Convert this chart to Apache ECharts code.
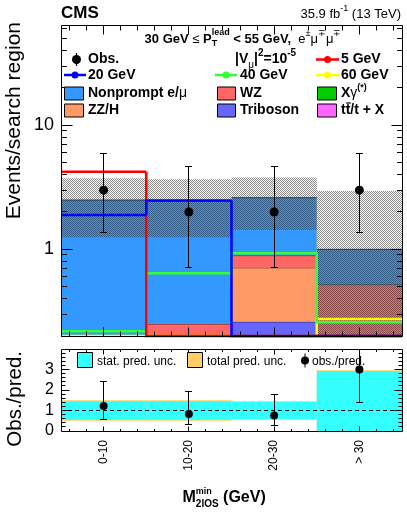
<!DOCTYPE html>
<html><head><meta charset="utf-8">
<script src="https://cdn.jsdelivr.net/npm/echarts@6/dist/echarts.min.js"></script>
<style>html,body{margin:0;padding:0;background:#fff}#c{width:407px;height:522px}</style>
</head><body><div id="c"></div>
<script>
// ---------------- data ----------------
const binLabels = ['0-10', '10-20', '20-30', '> 30'];
const obs      = [3, 2, 2, 3];
const obsLo    = [1.37, 0.71, 0.71, 1.37];   // lower end of error bar
const obsHi    = [5.92, 4.64, 4.64, 5.92];   // upper end of error bar
// background components (stack order bottom -> top); 0 = below visible range
const triboson  = [0, 0, 0.26, 0];
const ttx       = [0, 0, 0, 0];
const xgamma    = [0, 0, 0, 0];
const zzh       = [0, 0, 0.45, 0];
const wz        = [0, 0.25, 0.18, 0.52];
const nonprompt = [2.50, 2.21, 1.72, 0.48];
const predUnc   = [1.25, 1.21, 1.18, 1.95];  // absolute total uncertainty
// signal hypotheses (0 = below visible range)
const sig5  = [4.23, 0, 0, 0];
const sig20 = [1.89, 2.47, 0, 0];
const sig40 = [0.218, 0.64, 0.93, 0.258];
const sig60 = [0, 0, 0, 0.274];
// ratio panel
const ratio     = [1.22, 0.83, 0.76, 3.0];
const ratioLo   = [0.57, 0.30, 0.27, 1.38];
const ratioHi   = [2.40, 1.91, 1.80, 5.9];
const ratioStat = [0.45, 0.45, 0.42, 1.93];
const ratioTot  = [0.50, 0.50, 0.45, 1.96];
const ratioRef  = [1];
// axis ticks
const mainYLabels = ['1', '10'];
const mainYMajor = [1, 10];
const mainYMinor = [0.2,0.3,0.4,0.5,0.6,0.7,0.8,0.9,2,3,4,5,6,7,8,9,20,30,40,50,60];
const ratioYLabels = ['0', '1', '2', '3'];
const ratioYMajor = [1, 2, 3];
const ratioYMinor = [0.2,0.4,0.6,0.8,1.2,1.4,1.6,1.8,2.2,2.4,2.6,2.8,3.2,3.4,3.6,3.8];
const xMajor = [0.5, 1.5, 2.5, 3.5];
const xMinor = [0.1,0.3,0.7,0.9,1.1,1.3,1.7,1.9,2.1,2.3,2.7,2.9,3.1,3.3,3.7,3.9];

// ---------------- setup ----------------
const Y_MIN = 0.2, Y_MAX = 64.4, R_MIN = 0, R_MAX = 4, NB = binLabels.length;
const FONT = '"Liberation Sans", Arial, Helvetica, sans-serif';
const mctx = document.createElement('canvas').getContext('2d');
function W(t, s, w) { mctx.font = (w || 'normal') + ' ' + s + 'px ' + FONT; return mctx.measureText(t).width; }

// hatch pattern for uncertainty band
const pc = document.createElement('canvas'); pc.width = 2; pc.height = 2;
const pg = pc.getContext('2d'); pg.fillStyle = 'rgba(51,51,51,0.58)'; pg.fillRect(0, 0, 1, 1); pg.fillRect(1, 1, 1, 1);

const snap = v => Math.round(v - 0.5) + 0.5;

// stacked backgrounds
const stackDefs = [
  { vals: triboson, color: '#6666ff' },
  { vals: ttx, color: '#ff66ff' },
  { vals: xgamma, color: '#00cc00' },
  { vals: zzh, color: '#ff9966' },
  { vals: wz, color: '#ff6666' },
  { vals: nonprompt, color: '#3399ff' }
];
const cum = new Array(NB).fill(0);
const series = [];
stackDefs.forEach(d => {
  const data = d.vals.map((v, i) => { const lo = cum[i]; cum[i] += v; return [i, lo, cum[i]]; });
  series.push({
    type: 'custom', xAxisIndex: 0, yAxisIndex: 0, clip: true, z: 2, data,
    renderItem: (p, api) => {
      const i = api.value(0), lo = api.value(1), hi = api.value(2);
      if (hi - lo <= 0 || hi <= Y_MIN) return null;
      const a = api.coord([i, hi]), b = api.coord([i + 1, Math.max(lo, Y_MIN)]);
      return { type: 'group', children: [
        { type: 'rect', shape: { x: a[0], y: a[1], width: b[0] - a[0], height: b[1] - a[1] }, style: { fill: d.color } },
        { type: 'line', shape: { x1: a[0], y1: a[1], x2: b[0], y2: a[1] }, style: { stroke: 'rgba(0,0,0,0.7)', lineWidth: 1 } }
      ]};
    }
  });
});
const total = cum.slice();

// uncertainty band
series.push({
  type: 'custom', xAxisIndex: 0, yAxisIndex: 0, clip: true, z: 3,
  data: total.map((t, i) => [i, t - predUnc[i], t + predUnc[i]]),
  renderItem: (p, api) => {
    const i = api.value(0);
    const a = api.coord([i, api.value(2)]), b = api.coord([i + 1, Math.max(api.value(1), Y_MIN)]);
    return { type: 'rect', shape: { x: a[0], y: a[1], width: b[0] - a[0], height: b[1] - a[1] },
      style: { fill: { image: pc, repeat: 'repeat' } } };
  }
});

// signal lines
function sigSeries(vals, color) {
  return {
    type: 'custom', xAxisIndex: 0, yAxisIndex: 0, clip: false, z: 5,
    data: vals.map((v, i) => [i, v, i > 0 ? vals[i - 1] : v]),
    renderItem: (p, api) => {
      const i = api.value(0);
      const v = Math.max(api.value(1), Y_MIN), pv = Math.max(api.value(2), Y_MIN);
      const a = api.coord([i, pv]), b = api.coord([i, v]), c = api.coord([i + 1, v]);
      return { type: 'polyline', shape: { points: [a, b, c] }, style: { stroke: color, lineWidth: 2.5, fill: null } };
    }
  };
}
series.push(sigSeries(sig60, '#ffff00'));
series.push(sigSeries(sig40, '#33ff33'));
series.push(sigSeries(sig5, '#ff0000'));
series.push(sigSeries(sig20, '#0000ff'));

// points with error bars
function pointSeries(xi, yi, vals, lo, hi, yMax, r) {
  return {
    type: 'custom', xAxisIndex: xi, yAxisIndex: yi, clip: false, z: 8,
    data: vals.map((v, i) => [i + 0.5, v, lo[i], hi[i]]),
    renderItem: (p, api) => {
      const x = api.value(0);
      const c = api.coord([x, api.value(1)]);
      const l = api.coord([x, api.value(2)]);
      const hv = api.value(3), clipped = hv > yMax;
      const h = api.coord([x, Math.min(hv, yMax)]);
      const cx = snap(c[0]);
      const ch = [
        { type: 'line', shape: { x1: cx, y1: l[1], x2: cx, y2: h[1] }, style: { stroke: '#000', lineWidth: 1 } },
        { type: 'line', shape: { x1: cx - 3.5, y1: snap(l[1]), x2: cx + 3.5, y2: snap(l[1]) }, style: { stroke: '#000', lineWidth: 1 } },
        { type: 'circle', shape: { cx: c[0], cy: c[1], r: r }, style: { fill: '#000' } }
      ];
      if (!clipped) ch.push({ type: 'line', shape: { x1: cx - 3.5, y1: snap(h[1]), x2: cx + 3.5, y2: snap(h[1]) }, style: { stroke: '#000', lineWidth: 1 } });
      return { type: 'group', children: ch };
    }
  };
}
series.push(pointSeries(0, 0, obs, obsLo, obsHi, Y_MAX, 4.5));

// ratio bands
function ratioBand(unc, color, z) {
  return {
    type: 'custom', xAxisIndex: 1, yAxisIndex: 1, clip: true, z,
    data: unc.map((u, i) => [i, 1 - u, 1 + u]),
    renderItem: (p, api) => {
      const i = api.value(0);
      const a = api.coord([i, Math.min(api.value(2), R_MAX)]), b = api.coord([i + 1, Math.max(api.value(1), R_MIN)]);
      return { type: 'rect', shape: { x: a[0], y: a[1], width: b[0] - a[0], height: b[1] - a[1] }, style: { fill: color } };
    }
  };
}
series.push(ratioBand(ratioTot, '#ffcc66', 2));
series.push(ratioBand(ratioStat, '#33ffff', 3));
series.push({
  type: 'custom', xAxisIndex: 1, yAxisIndex: 1, clip: true, z: 4,
  data: ratioRef.map(v => [0, v]),
  renderItem: (p, api) => {
    const a = api.coord([0, api.value(1)]), b = api.coord([NB, api.value(1)]);
    return { type: 'line', shape: { x1: a[0], y1: snap(a[1]), x2: b[0], y2: snap(a[1]) }, style: { stroke: '#000', lineWidth: 1, lineDash: [4, 3] } };
  }
});
series.push(pointSeries(1, 1, ratio, ratioLo, ratioHi, R_MAX, 4));

// frames + ticks
function frameSeries(gi, yMin, yMax, yMaj, yMin_, L) {
  return {
    type: 'custom', xAxisIndex: gi, yAxisIndex: gi, clip: false, z: 20,
    data: [[0, yMax]],
    renderItem: (p, api) => {
      const tl = api.coord([0, yMax]), br = api.coord([NB, yMin]);
      const Lx = snap(tl[0]), T = snap(tl[1]), R = snap(br[0]), B = snap(br[1]);
      const ch = [];
      const ln = (x1, y1, x2, y2) => ch.push({ type: 'line', shape: { x1, y1, x2, y2 }, style: { stroke: '#000', lineWidth: 1 } });
      yMaj.forEach(v => { const y = snap(api.coord([0, v])[1]); ln(Lx, y, Lx + L.yMaj, y); ln(R, y, R - L.yMaj, y); });
      yMin_.forEach(v => { const y = snap(api.coord([0, v])[1]); ln(Lx, y, Lx + L.yMin, y); ln(R, y, R - L.yMin, y); });
      xMajor.forEach(v => { const x = snap(api.coord([v, yMin])[0]); ln(x, B, x, B - L.xMaj); ln(x, T, x, T + L.xMaj); });
      xMinor.forEach(v => { const x = snap(api.coord([v, yMin])[0]); ln(x, B, x, B - L.xMin); ln(x, T, x, T + L.xMin); });
      ch.push({ type: 'rect', shape: { x: Lx, y: T, width: R - Lx, height: B - T }, style: { fill: null, stroke: '#000', lineWidth: 1 } });
      return { type: 'group', children: ch };
    }
  };
}
series.push(frameSeries(0, Y_MIN, Y_MAX, mainYMajor, mainYMinor, { yMaj: 11, yMin: 5.5, xMaj: 9, xMin: 5 }));
series.push(frameSeries(1, R_MIN, R_MAX, ratioYMajor, ratioYMinor, { yMaj: 8, yMin: 4, xMaj: 5, xMin: 2.5 }));

// ---------------- graphics (texts, legend) ----------------
const G = [];
function richLine(x, y, parts, align) {
  const widths = parts.map(p => p.stack ? Math.max(...p.stack.map(q => W(q.t, q.s, q.w))) : W(p.t, p.s, p.w));
  const tot = widths.reduce((a, b) => a + b, 0);
  let cx = align === 'right' ? x - tot : align === 'center' ? x - tot / 2 : x;
  parts.forEach((p, k) => {
    (p.stack || [p]).forEach(q => G.push({ type: 'text', x: cx, y: y + (q.dy || 0), z: 100,
      style: { text: q.t, fontSize: q.s, fontWeight: q.w || 'normal', fontFamily: FONT, fill: '#000', textAlign: 'left', textVerticalAlign: 'middle' } }));
    cx += widths[k];
  });
}
function gline(x1, y1, x2, y2, stroke, lw) { G.push({ type: 'line', z: 100, shape: { x1, y1, x2, y2 }, style: { stroke, lineWidth: lw } }); }
function gcirc(cx, cy, r, fill) { G.push({ type: 'circle', z: 100, shape: { cx, cy, r }, style: { fill } }); }
function grect(x, y, w, h, fill) { G.push({ type: 'rect', z: 100, shape: { x, y, width: w, height: h }, style: { fill, stroke: '#000', lineWidth: 1 } }); }

// header
richLine(61, 13, [{ t: 'CMS', s: 17, w: 'bold' }], 'left');
richLine(401, 14, [{ t: '35.9 fb', s: 13 }, { t: '-1', s: 9, dy: -5 }, { t: ' (13 TeV)', s: 13 }], 'right');

// legend title
richLine(243, 39, [
  { t: '30 GeV ', s: 13, w: 'bold' }, { t: '\u2264 ', s: 13 }, { t: 'P', s: 13, w: 'bold' },
  { stack: [{ t: 'lead', s: 9, w: 'bold', dy: -6 }, { t: 'T', s: 9, w: 'bold', dy: 5 }] },
  { t: ' < 55 GeV,  ', s: 13, w: 'bold' }, { t: 'e', s: 13 }, { t: '\u00b1', s: 9, dy: -5 },
  { t: '\u03bc', s: 13 }, { t: '\u2213', s: 9, dy: -5 }, { t: '\u03bc', s: 13 }, { t: '\u2213', s: 9, dy: -5 }
], 'center');

const r1 = 59.5, r2 = 75, r3 = 93.5, r4 = 110.5, FS = 14;
// row 1
gline(76.5, r1 - 6.5, 76.5, r1 + 6.5, '#000', 1.2); gcirc(76.5, r1, 4.5, '#000');
richLine(88, r1, [{ t: 'Obs.', s: FS, w: 'bold' }], 'left');
richLine(235, r1, [{ t: '|V', s: FS, w: 'bold' }, { t: '\u03bc', s: 10, dy: 6 }, { t: '|', s: FS, w: 'bold' },
  { t: '2', s: 10, w: 'bold', dy: -6 }, { t: '=10', s: FS, w: 'bold' }, { t: '-5', s: 10, w: 'bold', dy: -6 }], 'left');
gline(316, r1, 339, r1, '#ff0000', 2.5); gcirc(327.5, r1, 3.5, '#ff0000');
richLine(341, r1, [{ t: '5 GeV', s: FS, w: 'bold' }], 'left');
// row 2
gline(64, r2, 86, r2, '#0000ff', 2.5); gcirc(75, r2, 3.5, '#0000ff');
richLine(88, r2, [{ t: '20 GeV', s: FS, w: 'bold' }], 'left');
gline(215, r2, 237, r2, '#33ff33', 2.5); gcirc(226, r2, 3.5, '#33ff33');
richLine(240, r2, [{ t: '40 GeV', s: FS, w: 'bold' }], 'left');
gline(316, r2, 339, r2, '#ffff00', 2.5); gcirc(327.5, r2, 3.5, '#ffff00');
richLine(341, r2, [{ t: '60 GeV', s: FS, w: 'bold' }], 'left');
// row 3
grect(64.5, r3 - 6.5, 19, 13, '#3399ff');
richLine(88, r3, [{ t: 'Nonprompt e/', s: FS, w: 'bold' }, { t: '\u03bc', s: FS }], 'left');
grect(217.5, r3 - 6.5, 18, 13, '#ff6666');
richLine(240, r3, [{ t: 'WZ', s: FS, w: 'bold' }], 'left');
grect(317.5, r3 - 6.5, 19, 13, '#00cc00');
richLine(341, r3, [{ t: 'X', s: FS, w: 'bold' }, { t: '\u03b3', s: FS }, { t: '(*)', s: 9, w: 'bold', dy: -6 }], 'left');
// row 4
grect(64.5, r4 - 6.5, 19, 13, '#ff9966');
richLine(88, r4, [{ t: 'ZZ/H', s: FS, w: 'bold' }], 'left');
grect(217.5, r4 - 6.5, 18, 13, '#6666ff');
richLine(240, r4, [{ t: 'Triboson', s: FS, w: 'bold' }], 'left');
grect(317.5, r4 - 6.5, 19, 13, '#ff66ff');
richLine(341, r4, [{ t: 't', s: FS, w: 'bold' }, { t: 't', s: FS, w: 'bold' }, { t: '/t + X', s: FS, w: 'bold' }], 'left');
{ const x0 = 341 + W('t', FS, 'bold'); gline(x0 + 0.5, r4 - 7.5, x0 + W('t', FS, 'bold') + 0.5, r4 - 7.5, '#000', 1.2); }

// ratio legend
const rl = 360.5;
grect(77.5, 352.5, 15, 15, '#33ffff');
richLine(97, rl + 1, [{ t: 'stat. pred. unc.', s: 12 }], 'left');
grect(187.5, 352.5, 15, 15, '#ffcc66');
richLine(207, rl + 1, [{ t: 'total pred. unc.', s: 12 }], 'left');
gline(305, rl - 7, 305, rl + 7, '#000', 1); gcirc(305, rl, 4, '#000');
richLine(312, rl + 1, [{ t: 'obs./pred.', s: 12 }], 'left');

// axis titles
richLine(182.5, 498, [{ t: 'M', s: 16, w: 'bold' },
  { stack: [{ t: 'min', s: 9, w: 'bold', dy: -6 }, { t: '2lOS', s: 10, w: 'bold', dy: 6 }] },
  { t: ' (GeV)', s: 16, w: 'bold' }], 'left');
G.push({ type: 'text', x: 25, y: 22, rotation: Math.PI / 2, z: 100,
  style: { text: 'Events/search region', fontSize: 21, fontFamily: FONT, fill: '#000', textAlign: 'right', textVerticalAlign: 'bottom' } });
G.push({ type: 'text', x: 26, y: 351, rotation: Math.PI / 2, z: 100,
  style: { text: 'Obs./pred.', fontSize: 20.5, fontFamily: FONT, fill: '#000', textAlign: 'right', textVerticalAlign: 'bottom' } });

// ---------------- chart ----------------
const chart = echarts.init(document.getElementById('c'), null, { renderer: 'canvas', width: 407, height: 522 });
const near = (a, b) => Math.abs(a - b) < 1e-6 * Math.max(1, Math.abs(b));
chart.setOption({
  animation: false,
  backgroundColor: '#fff',
  grid: [
    { left: 61, top: 25, width: 341, height: 311, outerBoundsMode: 'none', containLabel: false },
    { left: 61, top: 349, width: 341, height: 82, outerBoundsMode: 'none', containLabel: false }
  ],
  xAxis: [
    { type: 'value', gridIndex: 0, min: 0, max: NB, show: false },
    { type: 'value', gridIndex: 1, min: 0, max: NB, show: false, position: 'top' },
    { type: 'category', gridIndex: 1, data: binLabels, boundaryGap: true, position: 'bottom',
      axisLine: { show: false }, axisTick: { show: false }, splitLine: { show: false },
      axisLabel: { rotate: 90, fontSize: 12, margin: 9, color: '#000', fontFamily: FONT, interval: 0 } }
  ],
  yAxis: [
    { type: 'log', logBase: 10, gridIndex: 0, min: Y_MIN, max: Y_MAX,
      axisLine: { show: false }, axisTick: { show: false }, splitLine: { show: false },
      axisLabel: { fontSize: 18, margin: 7, color: '#000', fontFamily: FONT,
        formatter: v => { const k = mainYMajor.findIndex(m => near(v, m)); return k >= 0 ? mainYLabels[k] : ''; } } },
    { type: 'value', gridIndex: 1, min: R_MIN, max: R_MAX, interval: 1,
      axisLine: { show: false }, axisTick: { show: false }, splitLine: { show: false },
      axisLabel: { fontSize: 16, margin: 7, color: '#000', fontFamily: FONT,
        formatter: v => { const k = Math.round(v); return (near(v, k) && k < ratioYLabels.length) ? ratioYLabels[k] : ''; } } }
  ],
  series,
  graphic: { elements: G }
});
</script></body></html>
